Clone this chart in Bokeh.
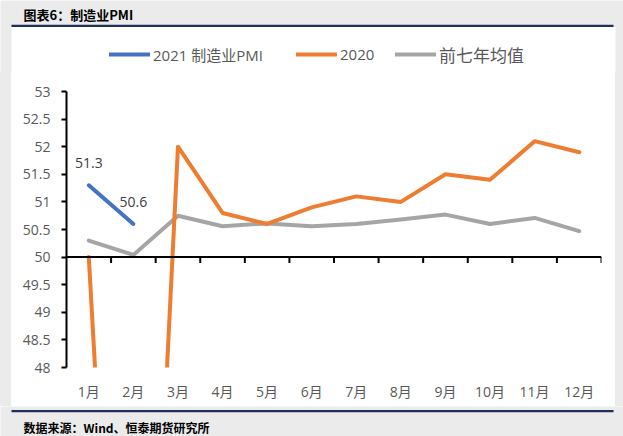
from bokeh.plotting import figure
from bokeh.layouts import column, row
from bokeh.models import (Range1d, FixedTicker, NumeralTickFormatter, Span, Legend,
                          LegendItem, Label, BoxAnnotation, Spacer)
from bokeh.core.properties import value
from bokeh.embed import file_html
from bokeh.resources import INLINE

# ---------------- data ----------------
months = ["1月", "2月", "3月", "4月", "5月", "6月", "7月", "8月", "9月", "10月", "11月", "12月"]
pmi_2021 = [51.3, 50.6]
pmi_2020 = [50.0, 35.7, 52.0, 50.8, 50.6, 50.9, 51.1, 51.0, 51.5, 51.4, 52.1, 51.9]
avg_7y = [50.30, 50.04, 50.75, 50.56, 50.61, 50.56, 50.60, 50.68, 50.77, 50.60, 50.71, 50.47]
y_ticks = [48, 48.5, 49, 49.5, 50, 50.5, 51, 51.5, 52, 52.5, 53]
series_names = ["2021 制造业PMI", "2020", "前七年均值"]
title_text = "图表6：制造业PMI"
source_text = "数据来源：Wind、恒泰期货研究所"

# ---------------- style ----------------
BLUE, ORANGE, GRAY = "#4472C4", "#ED7D31", "#A5A5A5"
TXT = "#595959"
NAVY = "#1F2F5C"
BG = "#EBEBEB"
FONT = "'Open Sans', 'Noto Sans CJK SC'"
CJK = "'Noto Sans CJK SC'"
LW = 4

W = 623
TOP_H, MAIN_H, BOT_H = 72, 334, 30
PANEL_L, PANEL_R = 11, 615


def deco_fig(h):
    f = figure(width=W, height=h, x_range=Range1d(0, W), y_range=Range1d(h, 0),
               output_backend="svg", toolbar_location=None, min_border=0)
    f.axis.visible = False
    f.grid.visible = False
    f.outline_line_color = None
    f.border_fill_color = BG
    f.background_fill_color = BG
    return f


def box(f, l, r, t, b, color):
    f.add_layout(BoxAnnotation(left=l, right=r, top=t, bottom=b, fill_color=color,
                               fill_alpha=1, line_color=None, level="underlay"))


# ---------------- top strip: title + legend ----------------
top = deco_fig(TOP_H)
box(top, PANEL_L, PANEL_R, 26.5, TOP_H, "white")
box(top, PANEL_L, 613, 24.3, 26.6, NAVY)
top.add_layout(Label(x=23, y=13.5, text=title_text, text_font=CJK, text_font_style="bold",
                     text_font_size="13px", text_color="black", text_baseline="middle"))

# ---------------- main chart ----------------
p = figure(width=PANEL_R - PANEL_L, height=MAIN_H, x_range=Range1d(0, len(months)),
           y_range=Range1d(48, 53), output_backend="svg", toolbar_location=None,
           min_border_left=55, min_border_right=14, min_border_top=19, min_border_bottom=39)
p.border_fill_color = "white"
p.background_fill_color = "white"
p.outline_line_color = None
p.grid.visible = False

xs = [i + 0.5 for i in range(len(months))]

p.yaxis.ticker = FixedTicker(ticks=y_ticks)
p.yaxis.formatter = NumeralTickFormatter(format="0.[0]")
p.yaxis.axis_line_color = "black"
p.yaxis.axis_line_width = 2
p.yaxis.major_tick_line_color = "black"
p.yaxis.major_tick_line_width = 2
p.yaxis.major_tick_out = 5
p.yaxis.major_tick_in = 0
p.yaxis.minor_tick_line_color = None
p.yaxis.major_label_standoff = 11
p.yaxis.major_label_text_font = FONT
p.yaxis.major_label_text_font_size = "14px"
p.yaxis.major_label_text_color = TXT

p.xaxis.ticker = FixedTicker(ticks=xs)
p.xaxis.major_label_overrides = {x: m for x, m in zip(xs, months)}
p.xaxis.axis_line_color = None
p.xaxis.major_tick_line_color = None
p.xaxis.minor_tick_line_color = None
p.xaxis.major_tick_out = 0
p.xaxis.major_tick_in = 0
p.xaxis.major_label_standoff = 14
p.xaxis.major_label_text_font = FONT
p.xaxis.major_label_text_font_size = "14px"
p.xaxis.major_label_text_color = TXT

# horizontal axis line at 50 with category-boundary ticks
p.add_layout(Span(location=50, dimension="width", line_color="black", line_width=2))
bounds = list(range(1, len(months) + 1))
p.ray(x=bounds, y=[50] * len(bounds), length=6, length_units="screen",
      angle=-1.5707963, line_color="black", line_width=2)

style = dict(line_width=LW, line_join="round", line_cap="round")
p.line(xs, avg_7y, line_color=GRAY, **style)
p.line(xs, pmi_2020, line_color=ORANGE, **style)
p.line(xs[:len(pmi_2021)], pmi_2021, line_color=BLUE, **style)

p.text(x=xs[:len(pmi_2021)], y=pmi_2021, text=[f"{v:.1f}" for v in pmi_2021],
       text_font=value("Open Sans"), text_font_size="14px", text_color="#404040",
       text_align="center", text_baseline="middle", y_offset=-22)

# legend (in top strip; proxy renderers styled like the series, placed off-canvas)
leg_specs = ((BLUE, series_names[0], 109, "15px"),
             (ORANGE, series_names[1], 296, "15px"),
             (GRAY, series_names[2], 395, "17px"))
for color, name, xpos, fs in leg_specs:
    r = top.line(x=[-60, -50], y=[-60, -60], line_color=color, **style)
    top.add_layout(Legend(items=[LegendItem(label=name, renderers=[r])],
                          location=(xpos, 5), orientation="horizontal",
                          glyph_width=41, glyph_height=26, label_standoff=3,
                          padding=0, margin=0, spacing=0, border_line_color=None,
                          background_fill_alpha=0, label_text_font=FONT,
                          label_text_font_size=fs, label_text_color=TXT))

# ---------------- bottom strip: source ----------------
bot = deco_fig(BOT_H)
box(bot, PANEL_L, 613, 3.4, 5.7, NAVY)
bot.add_layout(Label(x=23, y=21, text=source_text, text_font=CJK, text_font_style="bold",
                     text_font_size="12px", text_color="black", text_baseline="middle"))

left_pad = Spacer(width=PANEL_L, height=MAIN_H, styles={"background-color": BG})
right_pad = Spacer(width=W - PANEL_R, height=MAIN_H, styles={"background-color": BG})
layout = column(top, row(left_pad, p, right_pad, spacing=0), bot, spacing=0)

open("out.html", "w").write(file_html(layout, INLINE))
